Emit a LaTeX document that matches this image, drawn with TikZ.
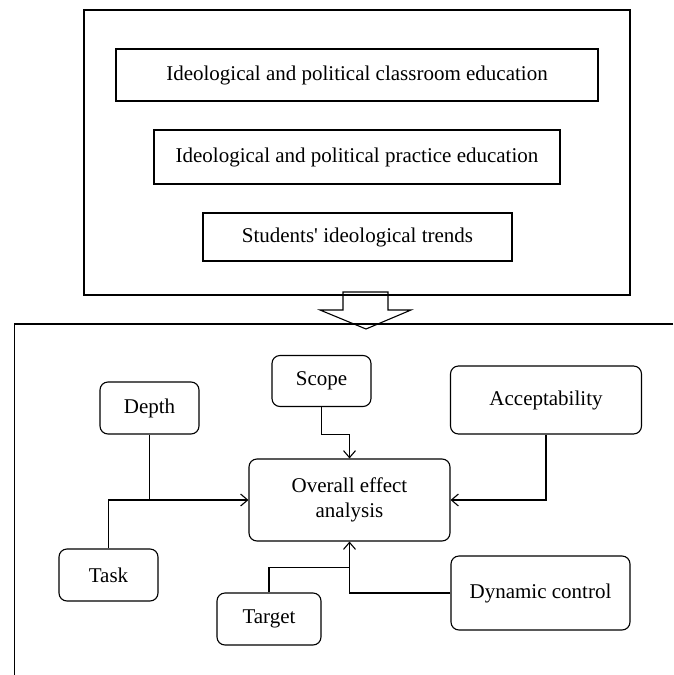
\documentclass[tikz,border=0pt]{standalone}
\usepackage{fontspec}
\setmainfont{Liberation Serif}[Ligatures=TeXOff]
\usetikzlibrary{arrows.meta,calc}
\begin{document}
\begin{tikzpicture}[x=1pt,y=-1pt,
  line width=1.1pt,
  sq/.style={draw, rectangle, inner sep=0pt, font=\fontsize{21}{25}\selectfont},
  rbox/.style={draw, rectangle, rounded corners=8pt, inner sep=0pt, align=center, font=\fontsize{21}{25}\selectfont},
  arr/.style={-{Straight Barb[length=7pt,width=12pt]}}]
\useasboundingbox (0,0) rectangle (673,675);
% top frame
\node[draw, rectangle, minimum width=546, minimum height=285, inner sep=0pt] (outer) at (357,152.5) {};
\node[sq, minimum width=482, minimum height=52] (b1) at (357,75) {Ideological and political classroom education};
\node[sq, minimum width=406, minimum height=54] (b2) at (357,157) {Ideological and political practice education};
\node[sq, minimum width=309, minimum height=48] (b3) at (357.5,237) {Students' ideological trends};
% block arrow
\draw (343,292) -- (388,292) -- (388,310) -- (411,310) -- (366,329) -- (320,310) -- (343,310) -- cycle;
% bottom frame
\draw (673,324) -- (14.5,324) -- (14.5,675);
% bottom nodes
\node[rbox, minimum width=99, minimum height=51] (scope) at (321.5,381) {Scope};
\node[rbox, minimum width=99, minimum height=52] (depth) at (149.5,408) {Depth};
\node[rbox, minimum width=191, minimum height=68] (accept) at (546,400) {Acceptability};
\node[rbox, minimum width=201, minimum height=82] (overall) at (349.5,500) {Overall effect\\analysis};
\node[rbox, minimum width=99, minimum height=52] (task) at (108.5,575) {Task};
\node[rbox, minimum width=104, minimum height=52] (target) at (269,619) {Target};
\node[rbox, minimum width=179, minimum height=74] (dyn) at (540.5,593) {Dynamic control};
% connectors
\draw[arr] (scope.south) -- ++(0,27) -| (overall.north);
\draw[arr] (depth.south) |- (overall.west);
\draw (task.north) |- (depth.south |- overall.west);
\draw[arr] (accept.south) |- (overall.east);
\draw[arr] (dyn.west) -| (overall.south);
\draw (target.north) |- ($(overall.south)+(0,26)$);
\end{tikzpicture}
\end{document}
